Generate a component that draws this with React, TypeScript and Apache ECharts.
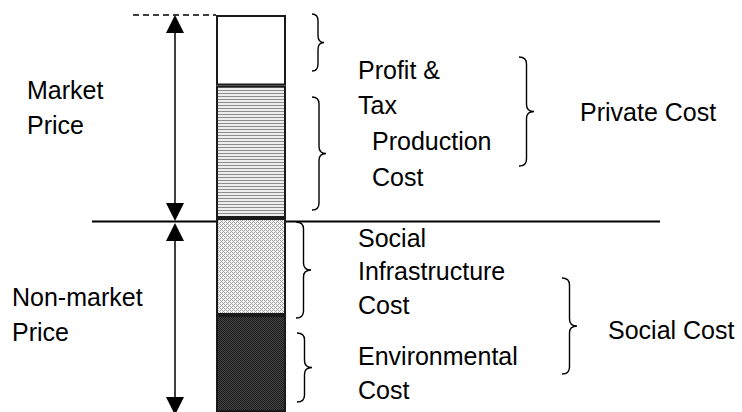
import React, { useEffect, useRef } from "react";
import * as echarts from "echarts";

const categories = ["Cost"];
const segmentNames = ["Environmental Cost", "Social Infrastructure Cost", "Production Cost", "Profit & Tax"];
const segmentValues = [2.2, 2.2, 3.0, 1.6];
const axisMax = 9;

const labels: { text: string; x: number; y: number }[] = [
  { text: "Market", x: 27, y: 90 },
  { text: "Price", x: 27, y: 125 },
  { text: "Profit &", x: 358, y: 70 },
  { text: "Tax", x: 358, y: 105 },
  { text: "Production", x: 372, y: 141 },
  { text: "Cost", x: 372, y: 177 },
  { text: "Private Cost", x: 580, y: 112 },
  { text: "Social", x: 358, y: 238 },
  { text: "Infrastructure", x: 358, y: 271 },
  { text: "Cost", x: 358, y: 305 },
  { text: "Non-market", x: 12, y: 297 },
  { text: "Price", x: 12, y: 332 },
  { text: "Social Cost", x: 608, y: 330 },
  { text: "Environmental", x: 358, y: 356 },
  { text: "Cost", x: 358, y: 390 },
];

const braces = [
  { x: 312, y1: 14, y2: 71, w: 12 },
  { x: 312, y1: 97, y2: 210, w: 14 },
  { x: 519, y1: 57, y2: 166, w: 15 },
  { x: 296, y1: 222, y2: 318, w: 15 },
  { x: 297, y1: 333, y2: 402, w: 15 },
  { x: 562, y1: 278, y2: 374, w: 15 },
];

function makePattern(w: number, h: number, px: string[][]): string {
  const c = document.createElement("canvas");
  c.width = w;
  c.height = h;
  const ctx = c.getContext("2d")!;
  for (let y = 0; y < h; y++) {
    for (let x = 0; x < w; x++) {
      ctx.fillStyle = px[y][x];
      ctx.fillRect(x, y, 1, 1);
    }
  }
  return c.toDataURL();
}

let braceRegistered = false;
function registerBrace() {
  if (braceRegistered) return;
  braceRegistered = true;
  const Brace = (echarts.graphic as any).extendShape({
    shape: { x: 0, y1: 0, y2: 10, w: 10 },
    buildPath(ctx: any, s: any) {
      const { x, y1, y2, w } = s;
      const xm = x + w * 0.5;
      const xt = x + w;
      const yc = (y1 + y2) / 2;
      const r = Math.min(7, (y2 - y1) / 8);
      ctx.moveTo(x, y1);
      ctx.quadraticCurveTo(xm, y1, xm, y1 + r);
      ctx.lineTo(xm, yc - r);
      ctx.quadraticCurveTo(xm, yc, xt, yc);
      ctx.quadraticCurveTo(xm, yc, xm, yc + r);
      ctx.lineTo(xm, y2 - r);
      ctx.quadraticCurveTo(xm, y2, x, y2);
    },
  });
  echarts.graphic.registerShape("brace", Brace);
}

export default function App() {
  const ref = useRef<HTMLDivElement>(null);
  useEffect(() => {
    document.body.style.margin = "0";
    registerBrace();
    const chart = echarts.init(ref.current!, null, { renderer: "svg" });

    const G = "#8c8c8c", L = "#ededed";
    const prod = makePattern(1, 3, [[G], [L], [L]]);
    const A = "#a6a6a6", W = "#f2f2f2";
    const infra = makePattern(4, 4, [
      [A, W, A, W],
      [W, A, W, W],
      [A, W, A, W],
      [W, W, W, A],
    ]);
    const D = "#1c1c1c", M = "#454545";
    const env = makePattern(2, 2, [
      [D, M],
      [M, D],
    ]);
    const fills: any[] = [
      { image: env, repeat: "repeat" },
      { image: infra, repeat: "repeat" },
      { image: prod, repeat: "repeat" },
      "#ffffff",
    ];

    const font = "'Liberation Sans', Arial, sans-serif";
    const lw = 1.5;
    const graphic: any[] = [];
    graphic.push({ type: "line", shape: { x1: 133, y1: 15, x2: 216, y2: 15 }, style: { stroke: "#000", lineWidth: 1.5, lineDash: [6, 4] } });
    graphic.push({ type: "line", shape: { x1: 175, y1: 30, x2: 175, y2: 206 }, style: { stroke: "#000", lineWidth: lw } });
    graphic.push({ type: "line", shape: { x1: 175, y1: 238, x2: 175, y2: 400 }, style: { stroke: "#000", lineWidth: lw } });
    const tri = (pts: number[][]) => ({ type: "polygon", shape: { points: pts }, style: { fill: "#000" } });
    graphic.push(tri([[175, 15], [166, 33], [184, 33]]));
    graphic.push(tri([[175, 221], [166, 203], [184, 203]]));
    graphic.push(tri([[175, 223], [166, 241], [184, 241]]));
    graphic.push(tri([[175, 415], [166, 397], [184, 397]]));
    graphic.push({ type: "line", shape: { x1: 92, y1: 221.5, x2: 660, y2: 221.5 }, style: { stroke: "#000", lineWidth: 2 } });
    braces.forEach((b) => {
      graphic.push({ type: "brace", shape: { ...b }, style: { stroke: "#000", lineWidth: 1.4, fill: null } });
    });
    labels.forEach((l) => {
      graphic.push({
        type: "text",
        x: l.x,
        y: l.y,
        style: { text: l.text, fill: "#000", font: `25px ${font}`, textVerticalAlign: "middle", verticalAlign: "middle", textAlign: "left" },
      });
    });

    chart.setOption({
      animation: false,
      grid: { left: 216, right: 456, top: 15, bottom: -8 },
      xAxis: { type: "category", data: categories, show: false },
      yAxis: { type: "value", min: 0, max: axisMax, show: false },
      series: segmentValues.map((v, i) => ({
        type: "bar",
        name: segmentNames[i],
        stack: "total",
        barWidth: 70,
        data: [v],
        itemStyle: { color: fills[i], borderColor: "#1a1a1a", borderWidth: 2 },
        emphasis: { disabled: true },
      })),
      graphic,
    });
    return () => chart.dispose();
  }, []);
  return <div ref={ref} style={{ position: "absolute", left: 0, top: 0, width: 742, height: 412 }} />;
}
